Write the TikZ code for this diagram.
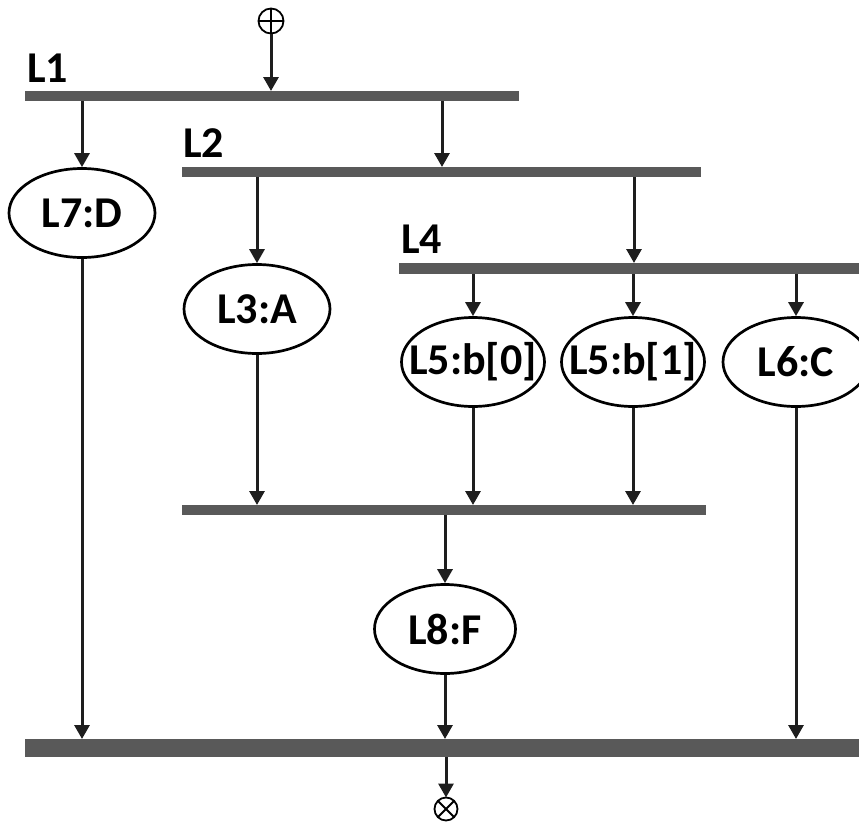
\documentclass[tikz,border=0pt]{standalone}
\usepackage{fontspec}
\setmainfont{Carlito}
\usetikzlibrary{shapes.geometric,arrows.meta}
\definecolor{barc}{HTML}{595959}
\definecolor{ink}{HTML}{1E1E1E}
\newcommand\ztext[1]{\makebox[0pt]{#1}}
\begin{document}
\begin{tikzpicture}[x=1pt,y=-1pt,
  bar/.style={rectangle,fill=barc,inner sep=0pt,outer sep=0pt,anchor=north west,minimum height=10pt},
  op/.style={ellipse,draw=black,line width=2.7pt,minimum width=146pt,minimum height=89pt,inner sep=0pt,
    font=\fontsize{44}{50}\selectfont\bfseries},
  lbl/.style={anchor=base west,inner sep=0pt,font=\fontsize{44}{50}\selectfont\bfseries},
  arr/.style={draw=ink,line width=3pt,-{Triangle[length=14pt,width=15pt]}},
  term/.style={circle,draw=black,line width=1.8pt,inner sep=0pt,outer sep=0pt}]
\useasboundingbox (0,0) rectangle (859,822);

% bars
\node[bar,minimum width=494pt] (L1bar) at (25,91) {};
\node[bar,minimum width=519pt] (L2bar) at (182,167) {};
\node[bar,minimum width=470pt,minimum height=11pt] (L4bar) at (399,263) {};
\node[bar,minimum width=524pt] (Mbar) at (182,505) {};
\node[bar,minimum width=840pt,minimum height=18pt] (Bbar) at (25,739) {};

% bar labels
\node[lbl] (t1) at (27,82) {L1};
\node[lbl] (t2) at (183,157) {L2};
\node[lbl] (t4) at (401,253) {L4};

% operation nodes
\node[op] (L7) at (82,213) {\ztext{L7:D}};
\node[op] (L3) at (257,309) {\ztext{L3:A}};
\node[op,minimum width=143pt] (L50) at (473,362) {\ztext{L5:b[0]}};
\node[op,minimum width=143pt] (L51) at (633,362) {\ztext{L5:b[1]}};
\node[op] (L6) at (796,362) {\ztext{L6:C}};
\node[op,minimum width=141pt] (L8) at (445,629) {\ztext{L8:F}};

% terminals
\node[term,minimum size=25pt,
  path picture={\draw[line width=1.8pt] (path picture bounding box.north) -- (path picture bounding box.south)
    (path picture bounding box.west) -- (path picture bounding box.east);}] (src) at (271,21) {};
\node[term,minimum size=23pt,
  path picture={\draw[line width=1.8pt] (path picture bounding box.north west) -- (path picture bounding box.south east)
    (path picture bounding box.south west) -- (path picture bounding box.north east);}] (snk) at (446,809) {};

% helper x positions
\coordinate (xa) at (442,0);
\coordinate (xb) at (634,0);

% connectors
\draw[arr] (src.south) -- (L1bar.north -| src.south);
\draw[arr] (L1bar.south -| L7.north) -- (L7.north);
\draw[arr] (L1bar.south -| xa) -- (L2bar.north -| xa);
\draw[arr] (L2bar.south -| L3.north) -- (L3.north);
\draw[arr] (L2bar.south -| xb) -- (L4bar.north -| xb);
\draw[arr] (L4bar.south -| L50.north) -- (L50.north);
\draw[arr] (L4bar.south -| L51.north) -- (L51.north);
\draw[arr] (L4bar.south -| L6.north) -- (L6.north);
\draw[arr] (L3.south) -- (Mbar.north -| L3.south);
\draw[arr] (L50.south) -- (Mbar.north -| L50.south);
\draw[arr] (L51.south) -- (Mbar.north -| L51.south);
\draw[arr] (Mbar.south -| L8.north) -- (L8.north);
\draw[arr] (L7.south) -- (Bbar.north -| L7.south);
\draw[arr] (L8.south) -- (Bbar.north -| L8.south);
\draw[arr] (L6.south) -- (Bbar.north -| L6.south);
\draw[arr] (Bbar.south -| snk.north) -- (snk.north);
\end{tikzpicture}
\end{document}
